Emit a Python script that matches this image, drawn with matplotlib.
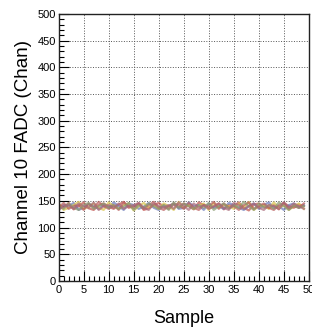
import matplotlib
matplotlib.use("Agg")
import matplotlib.pyplot as plt
from matplotlib.ticker import MultipleLocator

samples = list(range(50))
trace_a = [143,137,146,134,140,147,136,133,142,145,139,135,143,148,137,140,145,133,136,142,146,139,135,143,137,145,140,134,147,142,136,139,145,134,142,140,147,137,132,143,145,139,136,142,134,146,140,137,143,140]
trace_b = [135,142,140,146,133,137,144,140,135,142,137,147,140,133,145,142,135,139,146,137,133,142,140,145,135,137,147,140,142,133,145,137,140,135,146,142,137,133,140,145,135,142,147,137,140,133,142,145,137,142]
trace_c = [145,133,137,142,148,135,139,145,137,133,147,140,135,142,145,132,140,146,137,142,135,145,140,133,148,137,142,135,140,145,133,146,137,142,140,135,145,137,148,133,140,142,135,147,137,142,133,140,145,135]
trace_d = [137,146,135,140,142,133,145,137,148,140,135,142,133,147,140,137,145,135,142,148,137,133,140,145,142,135,146,137,133,142,140,148,135,145,137,140,133,142,147,135,140,145,137,133,142,146,135,140,137,145]
trace_e = [140,135,145,137,133,142,146,135,140,145,137,142,135,139,146,133,142,137,145,140,135,142,133,147,137,145,140,135,142,137,146,133,140,145,135,142,137,148,140,133,145,137,142,135,147,140,133,142,137,140]
trace_f = [133,140,142,135,145,140,137,147,133,140,142,137,145,135,140,142,146,137,133,145,140,137,142,135,147,140,133,145,137,142,135,140,145,137,133,146,142,135,140,145,137,133,142,140,135,147,137,145,140,135]
traces = [trace_a, trace_b, trace_c, trace_d, trace_e, trace_f]
colors = ['#c0504b', '#6a78b8', '#d8c248', '#b85a5a', '#8a9a70', '#a86878']

x_ticks = list(range(0, 51, 5))
y_ticks = list(range(0, 501, 50))

plt.rcParams['font.family'] = ['Liberation Sans', 'DejaVu Sans']
fig = plt.figure(figsize=(3.12, 3.29), dpi=100)
ax = fig.add_axes([0.188, 0.146, 0.802, 0.812])

for tr, c in zip(traces, colors):
    ax.plot(samples, tr, color=c, lw=1.6, alpha=0.7)

ax.set_xlim(0, 50)
ax.set_ylim(0, 500)
ax.set_xticks(x_ticks)
ax.set_yticks(y_ticks)
ax.xaxis.set_minor_locator(MultipleLocator(1))
ax.yaxis.set_minor_locator(MultipleLocator(10))
ax.tick_params(which='both', direction='in', top=False, right=False, labelsize=8)
ax.tick_params(axis='x', pad=3)
ax.tick_params(axis='y', pad=2)
ax.tick_params(which='major', length=7.5, width=0.8)
ax.tick_params(which='minor', length=3.5, width=0.8)
ax.grid(True, which='major', linestyle=':', color='#555555', lw=0.7)
for s in ax.spines.values():
    s.set_color('#222222')
    s.set_linewidth(1.0)
ax.set_xlabel('Sample', fontsize=13, labelpad=11)
ax.set_ylabel('Channel 10 FADC (Chan)', fontsize=13.5, labelpad=4)

fig.savefig('out.png', dpi=100)
